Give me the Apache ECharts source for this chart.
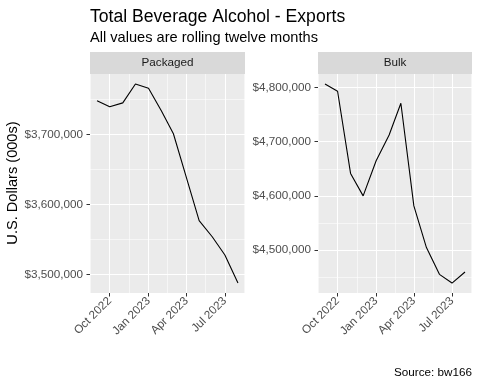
<!DOCTYPE html>
<html>
<head>
<meta charset="utf-8">
<script src="https://cdn.jsdelivr.net/npm/echarts@6/dist/echarts.min.js"></script>
<style>html,body{margin:0;padding:0;background:#fff;}#c{width:480px;height:384px;}</style>
</head>
<body>
<div id="c"></div>
<script>
// ---- data ----
const months = ['2022-09-01','2022-10-01','2022-11-01','2022-12-01','2023-01-01','2023-02-01',
                '2023-03-01','2023-04-01','2023-05-01','2023-06-01','2023-07-01','2023-08-01'];
const packaged = [3748000, 3739500, 3745000, 3772000, 3766000, 3733000,
                  3701000, 3638000, 3577000, 3554000, 3528000, 3488000];
const bulk = [4806800, 4793300, 4641500, 4600000, 4664900, 4712400,
              4771100, 4581500, 4504400, 4455000, 4438900, 4459300];
const panelNames = ['Packaged', 'Bulk'];
const xTickDates = ['2022-10-01','2023-01-01','2023-04-01','2023-07-01'];
const xTickLabels = ['Oct 2022','Jan 2023','Apr 2023','Jul 2023'];
const packagedTicks = [3500000, 3600000, 3700000];
const bulkTicks = [4500000, 4600000, 4700000, 4800000];

// ---- helpers ----
const ts = s => Date.parse(s + 'T00:00:00Z');
const mTs = months.map(ts);
const xTicks = xTickDates.map(ts);
const span = mTs[mTs.length-1] - mTs[0];
const xMin = mTs[0] - 0.05*span, xMax = mTs[mTs.length-1] + 0.05*span;
function mids(arr, lo, hi) {
  const step = arr[1]-arr[0];
  const out = [];
  out.push(arr[0]-step/2);
  for (let i=0;i<arr.length-1;i++) out.push((arr[i]+arr[i+1])/2);
  out.push(arr[arr.length-1]+step/2);
  return out.filter(v => v>lo && v<hi);
}
function ext(vals){ const mn=Math.min(...vals), mx=Math.max(...vals), r=mx-mn; return [mn-0.05*r, mx+0.05*r]; }
const xMinor = mids(xTicks, xMin, xMax);
const pExt = ext(packaged), bExt = ext(bulk);
const pMinor = mids(packagedTicks, pExt[0], pExt[1]);
const bMinor = mids(bulkTicks, bExt[0], bExt[1]);
const fmtDollar = v => '$' + Math.round(v).toLocaleString('en-US');
const fmtX = v => { const i = xTicks.indexOf(v); return i>=0 ? xTickLabels[i] : ''; };

const FONT = 'Liberation Sans, Arial, Helvetica, sans-serif';
const SMALL = 11.7;
const grids = [
  {left: 90, top: 74, width: 155, height: 219},
  {left: 318, top: 74, width: 154, height: 219}
];
const majorLine = {show: true, lineStyle: {color: '#FFFFFF', width: 1.1}};
const minorLine = {show: true, lineStyle: {color: '#FFFFFF', width: 0.55}};

function xMajor(g){ return {type:'value', gridIndex:g, min:xMin, max:xMax, position:'bottom',
  axisLine:{show:false},
  axisTick:{show:true, length:3.5, lineStyle:{color:'#333333', width:1}, customValues:xTicks},
  axisLabel:{show:true, customValues:xTicks, rotate:45, formatter:fmtX, color:'#4D4D4D', fontSize:SMALL, fontFamily:FONT, margin:6},
  splitLine:majorLine}; }
function xMinorAx(g){ return {type:'value', gridIndex:g, min:xMin, max:xMax, position:'bottom',
  axisLine:{show:false}, axisTick:{show:false, customValues:xMinor}, axisLabel:{show:false, customValues:xMinor},
  splitLine:minorLine}; }
function yMajor(g, e, ticks){ return {type:'value', gridIndex:g, min:e[0], max:e[1], position:'left',
  axisLine:{show:false},
  axisTick:{show:true, length:3.5, lineStyle:{color:'#333333', width:1}, customValues:ticks},
  axisLabel:{show:true, customValues:ticks, formatter:fmtDollar, color:'#4D4D4D', fontSize:SMALL, fontFamily:FONT, margin:7},
  splitLine:majorLine}; }
function yMinorAx(g, e, ticks){ return {type:'value', gridIndex:g, min:e[0], max:e[1], position:'left',
  axisLine:{show:false}, axisTick:{show:false, customValues:ticks}, axisLabel:{show:false, customValues:ticks},
  splitLine:minorLine}; }

const chart = echarts.init(document.getElementById('c'), null, {renderer:'canvas'});
const stripGraphics = [];
panelNames.forEach((n, i) => {
  const g = grids[i];
  stripGraphics.push({type:'rect', shape:{x:g.left, y:52, width:g.width, height:22}, style:{fill:'#D9D9D9'}, silent:true});
  stripGraphics.push({type:'text', x:g.left+g.width/2, y:63, style:{text:n, fill:'#1A1A1A', font:SMALL + 'px ' + FONT, textAlign:'center', textVerticalAlign:'middle'}, silent:true});
});
stripGraphics.push({type:'text', x:13, y:183, rotation:Math.PI/2,
  style:{text:'U.S. Dollars (000s)', fill:'#000000', font:'14.6px ' + FONT, textAlign:'center', textVerticalAlign:'middle'}});

chart.setOption({
  animation:false,
  backgroundColor:'#FFFFFF',
  title:[
    {text:'Total Beverage Alcohol - Exports', left:85, top:3, textStyle:{fontSize:17.6, fontWeight:'normal', color:'#000', fontFamily:FONT}},
    {text:'All values are rolling twelve months', left:85, top:25, textStyle:{fontSize:14.6, fontWeight:'normal', color:'#000', fontFamily:FONT}},
    {text:'Source: bw166', right:3, top:362, textStyle:{fontSize:SMALL, fontWeight:'normal', color:'#000', fontFamily:FONT}}
  ],
  grid: grids.map(g => Object.assign({show:true, backgroundColor:'#EBEBEB', borderWidth:0}, g)),
  xAxis:[xMajor(0), xMinorAx(0), xMajor(1), xMinorAx(1)],
  yAxis:[yMajor(0,pExt,packagedTicks), yMinorAx(0,pExt,pMinor), yMajor(1,bExt,bulkTicks), yMinorAx(1,bExt,bMinor)],
  graphic: stripGraphics,
  series:[
    {type:'line', xAxisIndex:0, yAxisIndex:0, data:mTs.map((t,i)=>[t,packaged[i]]), showSymbol:false, symbol:'none',
     lineStyle:{color:'#000', width:1.1}, z:5},
    {type:'line', xAxisIndex:2, yAxisIndex:2, data:mTs.map((t,i)=>[t,bulk[i]]), showSymbol:false, symbol:'none',
     lineStyle:{color:'#000', width:1.1}, z:5}
  ]
});
</script>
</body>
</html>
